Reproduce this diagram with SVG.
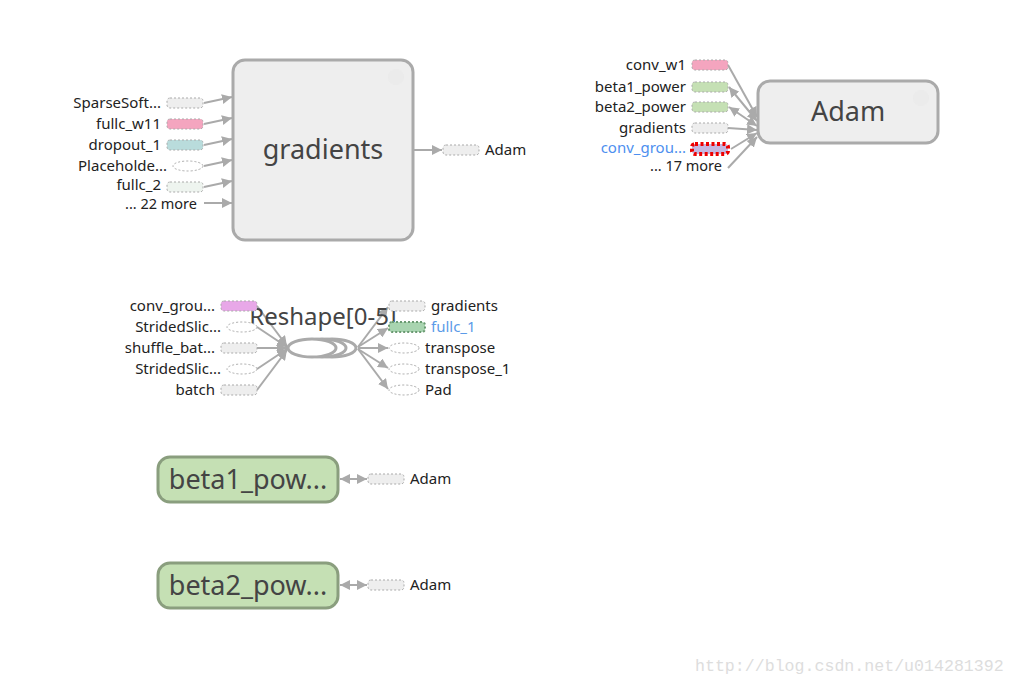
<svg xmlns="http://www.w3.org/2000/svg" width="1015" height="685" viewBox="0 0 1015 685">
<defs>
<marker id="ah2" viewBox="0 0 10 10" refX="10" refY="5" markerWidth="10" markerHeight="10" orient="auto" markerUnits="userSpaceOnUse"><path d="M0,0 L10,5 L0,10 z" fill="#aaa"/></marker>
<marker id="as" viewBox="0 0 10 10" refX="0" refY="5" markerWidth="10" markerHeight="10" orient="auto" markerUnits="userSpaceOnUse"><path d="M10,0 L0,5 L10,10 z" fill="#aaa"/></marker>
</defs>
<style>
text{font-family:"Noto Sans","Open Sans","Liberation Sans",sans-serif;fill:#222}
.big{font-size:27px;fill:#444;text-anchor:middle}
.lbl{font-size:15px;text-anchor:end}
.lbl2{font-size:15px}
.more{font-size:14.5px;text-anchor:end}
.node{fill:#eee;stroke:#aaa;stroke-width:3}
.gnode{fill:#c5e0b4;stroke:#8a9e7e;stroke-width:3}
.sm{stroke:#aaa;stroke-width:1;stroke-dasharray:2,2}
.e{stroke:#aaa;stroke-width:2;fill:none}
.ic{fill:#e4e4e4;opacity:0.35}
</style>
<rect width="1015" height="685" fill="#fff"/>

<g id="connectors">
<line class="e" x1="204" y1="103" x2="232" y2="97" marker-end="url(#ah2)"/>
<line class="e" x1="204" y1="124" x2="232" y2="118" marker-end="url(#ah2)"/>
<line class="e" x1="204" y1="145" x2="232" y2="139" marker-end="url(#ah2)"/>
<line class="e" x1="204" y1="166" x2="232" y2="160" marker-end="url(#ah2)"/>
<line class="e" x1="204" y1="187" x2="232" y2="181" marker-end="url(#ah2)"/>
<line class="e" x1="204" y1="203" x2="232" y2="203" marker-end="url(#ah2)"/>
<line class="e" x1="414" y1="150" x2="442" y2="150" marker-end="url(#ah2)"/>

<line class="e" x1="728" y1="65" x2="757" y2="117" marker-end="url(#ah2)"/>
<line class="e" x1="729" y1="87" x2="757" y2="121" marker-start="url(#as)" marker-end="url(#ah2)"/>
<line class="e" x1="729" y1="107" x2="757" y2="126" marker-start="url(#as)" marker-end="url(#ah2)"/>
<line class="e" x1="728" y1="128" x2="757" y2="130" marker-end="url(#ah2)"/>
<line class="e" x1="731" y1="149" x2="757" y2="133" marker-end="url(#ah2)"/>
<line class="e" x1="728" y1="168" x2="757" y2="137" marker-end="url(#ah2)"/>

<line class="e" x1="257" y1="306" x2="287" y2="346" marker-end="url(#ah2)"/>
<line class="e" x1="257" y1="327" x2="287" y2="347" marker-end="url(#ah2)"/>
<line class="e" x1="257" y1="348" x2="287" y2="348" marker-end="url(#ah2)"/>
<line class="e" x1="257" y1="369" x2="287" y2="349" marker-end="url(#ah2)"/>
<line class="e" x1="257" y1="390" x2="287" y2="350" marker-end="url(#ah2)"/>
<line class="e" x1="358" y1="347" x2="388" y2="307" marker-end="url(#ah2)"/>
<line class="e" x1="358" y1="347" x2="388" y2="328" marker-end="url(#ah2)"/>
<line class="e" x1="358" y1="348" x2="388" y2="348" marker-end="url(#ah2)"/>
<line class="e" x1="358" y1="349" x2="388" y2="368" marker-end="url(#ah2)"/>
<line class="e" x1="358" y1="349" x2="388" y2="389" marker-end="url(#ah2)"/>

<line class="e" x1="340" y1="479" x2="367" y2="479" marker-start="url(#as)" marker-end="url(#ah2)"/>
<line class="e" x1="340" y1="585" x2="367" y2="585" marker-start="url(#as)" marker-end="url(#ah2)"/>
</g>

<g id="gradients">
<rect class="node" x="233" y="60" width="180" height="180" rx="12"/>
<circle class="ic" cx="396" cy="77" r="8"/>
<text class="big" x="323" y="159">gradients</text>
</g>
<g id="gradients-inputs">
<rect class="sm" x="167" y="98" width="36" height="10" rx="3" fill="#eee"/>
<text class="lbl" x="161" y="108">SparseSoft...</text>
<rect class="sm" x="167" y="119" width="36" height="10" rx="3" fill="#f4a5bf" stroke="#a07080"/>
<text class="lbl" x="161" y="129">fullc_w11</text>
<rect class="sm" x="167" y="140" width="36" height="10" rx="3" fill="#b9dcdc"/>
<text class="lbl" x="161" y="150">dropout_1</text>
<ellipse class="sm" cx="188" cy="166" rx="15" ry="5" fill="#fff"/>
<text class="lbl" x="167" y="171">Placeholde...</text>
<rect class="sm" x="167" y="182" width="36" height="10" rx="3" fill="#eef4ef"/>
<text class="lbl" x="161" y="190">fullc_2</text>
<text class="more" x="197" y="209">... 22 more</text>
<rect class="sm" x="443" y="145" width="36" height="10" rx="3" fill="#eee"/>
<text class="lbl2" x="485" y="155">Adam</text>
</g>

<g id="adam">
<rect class="node" x="758" y="81" width="180" height="62" rx="12"/>
<circle class="ic" cx="921" cy="98" r="8"/>
<text class="big" x="848" y="121">Adam</text>
</g>
<g id="adam-inputs">
<rect class="sm" x="692" y="60" width="36" height="10" rx="3" fill="#f4a5bf" stroke="#a07080"/>
<text class="lbl" x="686" y="70">conv_w1</text>
<rect class="sm" x="692" y="82" width="36" height="10" rx="3" fill="#c5e0b4" stroke="#8a9e7e"/>
<text class="lbl" x="686" y="92">beta1_power</text>
<rect class="sm" x="692" y="102" width="36" height="10" rx="3" fill="#c5e0b4" stroke="#8a9e7e"/>
<text class="lbl" x="686" y="112">beta2_power</text>
<rect class="sm" x="692" y="123" width="36" height="10" rx="3" fill="#eee"/>
<text class="lbl" x="686" y="133">gradients</text>
<rect x="692" y="144" width="36" height="10" rx="3" fill="#c5b7e0" stroke="#ee0000" stroke-width="4" stroke-dasharray="3,2.5"/>
<text class="lbl" x="686" y="153" style="fill:#4d8fef">conv_grou...</text>
<text class="more" x="722" y="171">... 17 more</text>
</g>

<g id="reshape">
<ellipse cx="332" cy="348" rx="24" ry="9" fill="#fff" stroke="#aaa" stroke-width="3"/>
<ellipse cx="322" cy="348" rx="24" ry="9" fill="#fff" stroke="#aaa" stroke-width="3"/>
<ellipse cx="312" cy="348" rx="24" ry="9" fill="#fff" stroke="#aaa" stroke-width="3"/>
<text x="323" y="325" style="font-size:24px;fill:#444;text-anchor:middle">Reshape[0-5]</text>
</g>
<g id="reshape-io">
<rect class="sm" x="221" y="301" width="36" height="10" rx="3" fill="#e8a8e8" stroke="#a07aa0"/>
<text class="lbl" x="215" y="311">conv_grou...</text>
<ellipse class="sm" cx="242" cy="327" rx="15" ry="5" fill="#fff"/>
<text class="lbl" x="221" y="332">StridedSlic...</text>
<rect class="sm" x="221" y="343" width="36" height="10" rx="3" fill="#eee"/>
<text class="lbl" x="215" y="353">shuffle_bat...</text>
<ellipse class="sm" cx="242" cy="369" rx="15" ry="5" fill="#fff"/>
<text class="lbl" x="221" y="374">StridedSlic...</text>
<rect class="sm" x="221" y="385" width="36" height="10" rx="3" fill="#eee"/>
<text class="lbl" x="215" y="395">batch</text>
<rect class="sm" x="389" y="301" width="36" height="10" rx="3" fill="#eee"/>
<text class="lbl2" x="431" y="311">gradients</text>
<rect x="389" y="322" width="36" height="10" rx="3" fill="#a8d4b0" stroke="#6a9a72" stroke-width="2" stroke-dasharray="2,2"/>
<text class="lbl2" x="431" y="332" style="fill:#5b9be8">fullc_1</text>
<ellipse class="sm" cx="404" cy="348" rx="15" ry="5" fill="#fff"/>
<text class="lbl2" x="425" y="353">transpose</text>
<ellipse class="sm" cx="404" cy="369" rx="15" ry="5" fill="#fff"/>
<text class="lbl2" x="425" y="374">transpose_1</text>
<ellipse class="sm" cx="404" cy="390" rx="15" ry="5" fill="#fff"/>
<text class="lbl2" x="425" y="395">Pad</text>
</g>

<g id="beta1_power">
<rect class="gnode" x="158" y="457" width="180" height="45" rx="12"/>
<text class="big" x="248" y="489">beta1_pow...</text>
</g>
<g id="beta1-out">
<rect class="sm" x="368" y="474" width="36" height="10" rx="3" fill="#eee"/>
<text class="lbl2" x="410" y="484">Adam</text>
</g>

<g id="beta2_power">
<rect class="gnode" x="158" y="563" width="180" height="45" rx="12"/>
<text class="big" x="248" y="595">beta2_pow...</text>
</g>
<g id="beta2-out">
<rect class="sm" x="368" y="580" width="36" height="10" rx="3" fill="#eee"/>
<text class="lbl2" x="410" y="590">Adam</text>
</g>

<text x="695" y="671" style="font-family:'Liberation Mono','DejaVu Sans Mono',monospace;font-size:16.6px;fill:#ddd">http://blog.csdn.net/u014281392</text>
</svg>
